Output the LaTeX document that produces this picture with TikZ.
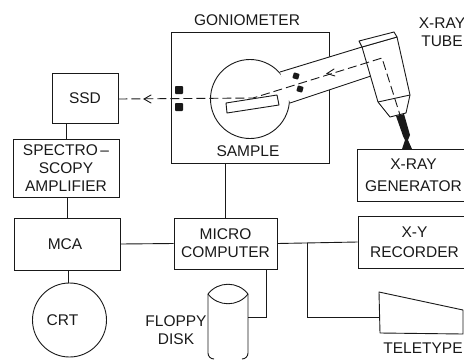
\documentclass[tikz,border=0pt]{standalone}
\usepackage{fontspec}
\setmainfont{Liberation Sans}
\usetikzlibrary{arrows.meta,calc}
\definecolor{ink}{RGB}{25,25,25}
\tikzset{
  every node/.style={font=\fontsize{15.5}{18}\selectfont,inner sep=0pt,align=center,text=ink},
  box/.style={draw=ink,line width=0.9pt,rectangle,minimum width=#1},
  wire/.style={draw=ink,line width=0.9pt},
  shapeline/.style={draw=ink,line width=0.9pt,line join=round},
  beam/.style={draw=ink,line width=0.9pt,dash pattern=on 9pt off 4pt},
  tipmark/.style={draw=ink,line width=0.9pt,line cap=round},
  slit/.style={fill=ink,draw=none,rounded corners=0.8pt}
}
\begin{document}
\begin{tikzpicture}[x=1pt,y=-1pt]
\useasboundingbox (0,0) rectangle (464,360);
% boxes
\node[box=66pt,minimum height=50pt] (ssd) at (85,98) {SSD};
\node[box=106pt,minimum height=58pt] (amp) at (66,168) {SPECTRO\,–\\SCOPY\\AMPLIFIER};
\node[box=106pt,minimum height=52pt] (mca) at (67,244) {MCA\kern4pt};
\node[draw=ink,line width=0.9pt,circle,minimum size=74pt] (crt) at (69.5,320) {CRT\kern14pt};
\node[box=103pt,minimum height=51pt] (micro) at (225.5,243.5) {MICRO\\COMPUTER};
\node[box=113pt,minimum height=52pt] (gen) at (413.5,175) {X-RAY\\[4pt]GENERATOR};
\node[box=113pt,minimum height=52pt] (xy) at (414.5,242) {X-Y\\[2pt]RECORDER};
\node[box=158pt,minimum height=131pt] (gonio) at (250,97.5) {};
% labels
\node (lgon) at (247,20) {GONIOMETER};
\node (lsam) at (248,151) {SAMPLE};
\node (ltube) at (442,32) {X-RAY\\TUBE};
\node (ltty) at (423,348) {TELETYPE};
\node (lflop) at (176,330.5) {FLOPPY\\DISK};
% goniometer chamber and tube arm (white fill covers the box wall)
\coordinate (armUL) at (280,72);
\coordinate (armUR) at (362,47);
\coordinate (armLL) at (290,103);
\coordinate (armLR) at (371,76);
\fill[white] (armUL) -- (armUR) -- (armLR) -- (armLL) -- cycle;
\node[draw=ink,fill=white,line width=0.9pt,circle,minimum size=79pt] (chamber) at (250,99) {};
\fill[white] (armUL) -- (armUR) -- (armLR) -- (armLL) -- cycle;
\draw[shapeline] (armUL) -- (armUR);
\draw[shapeline] (armLL) -- (armLR);
% tube head
\draw[shapeline,fill=white] (362,47) -- (378,102) -- (390,117) -- (406,113) -- (410,95) -- (397,37) -- cycle;
\draw[shapeline,fill=white] (359,41) -- (394,32) -- (397,37) -- (362,47) -- cycle;
\draw[shapeline] (378,102) -- (410,95);
% sample
\draw[shapeline,fill=white] (226,103) -- (277,95) -- (279,105) -- (227,113) -- cycle;
% slits
\fill[slit] (175,86) rectangle (183,94);
\fill[slit] (175,103) rectangle (183,111);
\fill[slit,rotate around={-18:(296,76)}] (293,73) rectangle (299,79);
\fill[slit,rotate around={-18:(300,89)}] (297,86) rectangle (303,92);
% cable
\fill[ink] (396,116) -- (404,114) -- (410,135) -- (408,140) -- (412,149) -- (402,149) -- (405,140) -- (403,136) -- cycle;
% beam
\coordinate (bend) at (253,98);
\coordinate (head) at (382,58);
\draw[beam] (ssd.east |- 0,99) -- (bend) -- (head) -- (400,115);
\draw[tipmark] (151,95) -- (144,99) -- (151,103);
\draw[tipmark] (334,69) -- (327,73.5) -- (335,76);
% connectors
\draw[wire] (ssd.south -| 66,0) -- (66,0 |- amp.north);
\draw[wire] (67,0 |- amp.south) -- (67,0 |- mca.north);
\draw[wire] (68,0 |- mca.south) -- (68,0 |- crt.north);
\draw[wire] (mca.east) -- (micro.west);
\draw[wire] (225,0 |- gonio.south) -- (225,0 |- micro.north);
\draw[wire] (micro.east) -- (xy.west);
\coordinate (jn) at (307,243);
\coordinate (ttyin) at (380,317);
\draw[wire] (jn) -- (jn |- ttyin) -- (ttyin);
% teletype
\draw[shapeline] (379,292) -- (463,310) -- (463,334) -- (380,333) -- cycle;
% floppy
\coordinate (fl) at (208,294);
\coordinate (fr) at (248,294);
\draw[shapeline] (fl) .. controls (218,281) and (238,281) .. (fr) .. controls (238,307) and (218,307) .. (fl);
\draw[shapeline] (fl) -- (208,353) arc[start angle=180,end angle=90,radius=6pt,y radius=-6pt];
\draw[shapeline] (fr) -- (248,353) arc[start angle=0,end angle=90,radius=6pt,y radius=-6pt];
\coordinate (flin) at (248,317);
\draw[wire] (266,0 |- micro.south) -- (266,317) -- (flin);
\end{tikzpicture}
\end{document}
